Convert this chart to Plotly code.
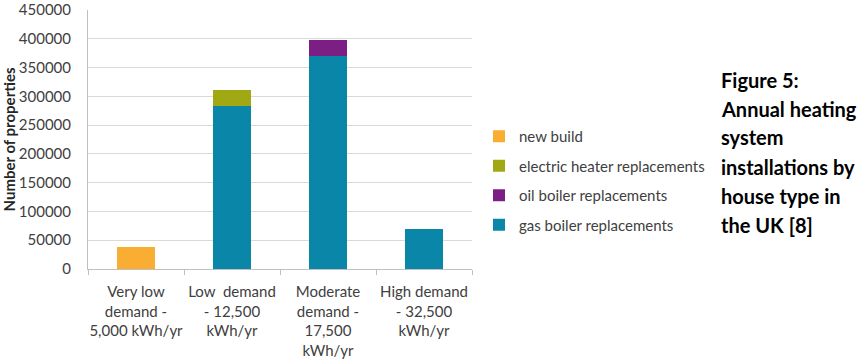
import plotly.graph_objects as go

categories = ["Very low<br>demand -<br>5,000 kWh/yr",
              "Low  demand<br>- 12,500<br>kWh/yr",
              "Moderate<br>demand -<br>17,500<br>kWh/yr",
              "High demand<br>- 32,500<br>kWh/yr"]
gas_boiler = [0, 284000, 370000, 70000]
oil_boiler = [0, 0, 28000, 0]
electric_heater = [0, 27000, 0, 0]
new_build = [38000, 0, 0, 0]

series = [
    ("gas boiler replacements", gas_boiler, "#0A87A8", 4),
    ("oil boiler replacements", oil_boiler, "#7C1F84", 3),
    ("electric heater replacements", electric_heater, "#A0A814", 2),
    ("new build", new_build, "#F9AD33", 1),
]

title_lines = ["Figure 5:", "Annual heating", "system", "installations by",
               "house type in", "the UK [8]"]

FONT = "Lato, 'Open Sans', sans-serif"
fig = go.Figure()
for name, vals, col, rank in series:
    fig.add_trace(go.Bar(x=categories, y=vals, name=name, marker_color=col,
                         marker_line_width=0, width=0.4, legendgroup=name,
                         legendrank=rank))

W, H = 867, 362
L, R, T, B = 88, 472, 10, 269
pw, ph = R - L, B - T

line_y = [80, 109, 137, 167, 196, 225]
for txt, yp in zip(title_lines, line_y):
    fig.add_annotation(text="<b>%s</b>" % txt, xref="paper", yref="paper",
                       x=(719 - L) / pw, y=(B - yp) / ph, xanchor="left", yanchor="middle",
                       showarrow=False, font=dict(family=FONT, size=20, color="#000000"))

fig.update_layout(
    width=W, height=H, barmode="stack",
    margin=dict(l=L, r=W - R, t=T, b=H - B, autoexpand=False),
    paper_bgcolor="white", plot_bgcolor="white",
    font=dict(family=FONT, size=15, color="#404040"),
    showlegend=True,
    legend=dict(x=(479 - L) / pw, y=(B - 120) / ph, xanchor="left", yanchor="top",
                traceorder="grouped", tracegroupgap=7,
                font=dict(family=FONT, size=15, color="#404040"),
                itemwidth=30, bgcolor="rgba(0,0,0,0)"),
    xaxis=dict(showgrid=False, showline=True, linecolor="#BFBFBF", linewidth=1,
               ticks="outside", tickson="boundaries", ticklen=5, tickcolor="#BFBFBF",
               tickangle=0, automargin=False, ticklabelstandoff=9,
               tickfont=dict(size=15, color="#404040"), fixedrange=True),
    yaxis=dict(range=[0, 450000], dtick=50000, tickformat="d",
               showgrid=True, gridcolor="#D9D9D9", gridwidth=1,
               showline=True, linecolor="#BFBFBF", linewidth=1,
               ticks="", ticklabelstandoff=13, automargin=False,
               tickfont=dict(size=15, color="#404040"),
               title=dict(text="<b>Number of properties</b>", standoff=10,
                          font=dict(size=15, color="#262626")),
               zeroline=False),
)

fig.write_html("out.html")
